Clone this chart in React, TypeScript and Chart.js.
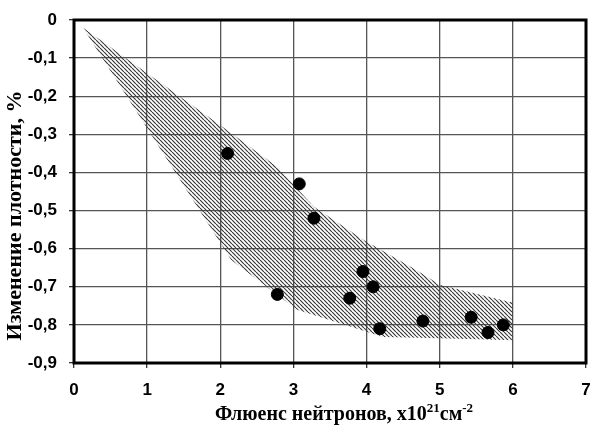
import React, { useEffect, useRef } from 'react';
import { Chart, registerables } from 'chart.js';

Chart.register(...registerables);

const xMin = 0;
const xMax = 7;
const yMin = -0.9;
const yMax = 0;

const pointX = [2.1, 2.78, 3.08, 3.28, 3.77, 3.95, 4.09, 4.18, 4.77, 5.43, 5.66, 5.87];
const pointY = [-0.35, -0.72, -0.43, -0.52, -0.73, -0.66, -0.7, -0.81, -0.79, -0.78, -0.82, -0.8];

const bandX = [0.12, 2.1, 2.78, 3.28, 3.96, 4.68, 5.0, 5.96, 6.0, 6.0, 5.0, 4.23, 3.05, 2.15, 0.12];
const bandY = [-0.02, -0.29, -0.386, -0.49, -0.577, -0.656, -0.695, -0.74, -0.74, -0.84, -0.835, -0.832, -0.76, -0.63, -0.02];

const yTitle = 'Изменение плотности, %';
const xTitleMain = 'Флюенс нейтронов, x10';
const xTitleSup1 = '21';
const xTitleMid = 'см';
const xTitleSup2 = '-2';

const fmtY = (v: number) => (Math.abs(v) < 1e-9 ? '0' : v.toFixed(1).replace('.', ','));

export default function App() {
  const ref = useRef<HTMLCanvasElement | null>(null);

  useEffect(() => {
    const canvas = ref.current;
    if (!canvas) return;
    const ctx = canvas.getContext('2d')!;

    const pc = document.createElement('canvas');
    pc.width = 4;
    pc.height = 4;
    const g = pc.getContext('2d')!;
    g.strokeStyle = '#3a3a3a';
    g.lineWidth = 1.2;
    g.beginPath();
    for (const o of [-4, 0, 4]) {
      g.moveTo(o, 0);
      g.lineTo(o + 4, 4);
    }
    g.stroke();
    const pattern = ctx.createPattern(pc, 'repeat');

    const frame = {
      id: 'frameAndTitles',
      afterDraw(chart: any) {
        const c = chart.ctx;
        const { left, top, right, bottom } = chart.chartArea;
        c.save();
        c.strokeStyle = '#000';
        c.lineWidth = 3;
        c.strokeRect(left, top, right - left, bottom - top);

        c.fillStyle = '#000';
        c.textBaseline = 'middle';
        const big = 'bold 20px "Liberation Serif", serif';
        const small = 'bold 13px "Liberation Serif", serif';
        c.font = big;
        const w1 = c.measureText(xTitleMain).width;
        const w3 = c.measureText(xTitleMid).width;
        c.font = small;
        const w2 = c.measureText(xTitleSup1).width;
        const w4 = c.measureText(xTitleSup2).width;
        const total = w1 + w2 + w3 + w4;
        const cx = (left + right) / 2 + 14;
        const cy = bottom + 52;
        let x = cx - total / 2;
        c.textAlign = 'left';
        c.font = big;
        c.fillText(xTitleMain, x, cy);
        x += w1;
        c.font = small;
        c.fillText(xTitleSup1, x, cy - 6);
        x += w2;
        c.font = big;
        c.fillText(xTitleMid, x, cy);
        x += w3;
        c.font = small;
        c.fillText(xTitleSup2, x, cy - 6);

        c.translate(15, (top + bottom) / 2 + 24);
        c.rotate(-Math.PI / 2);
        c.textAlign = 'center';
        c.font = 'bold 22px "Liberation Serif", serif';
        c.fillText(yTitle, 0, 0);
        c.restore();
      },
    };

    const tickFont = { family: '"Liberation Sans", Arial, sans-serif', size: 17, weight: 'bold' as const };

    const chart = new Chart(ctx, {
      type: 'scatter',
      data: {
        datasets: [
          {
            label: 'points',
            data: pointX.map((x, i) => ({ x, y: pointY[i] })),
            pointRadius: 6,
            pointBackgroundColor: '#000',
            pointBorderColor: '#000',
            showLine: false,
          },
          {
            label: 'band',
            data: bandX.map((x, i) => ({ x, y: bandY[i] })),
            showLine: true,
            pointRadius: 0,
            borderWidth: 0,
            borderColor: 'rgba(0,0,0,0)',
            backgroundColor: pattern as any,
            fill: 'shape' as any,
            tension: 0,
          },
        ],
      },
      options: {
        animation: false,
        responsive: false,
        events: [],
        layout: { padding: { top: 20, right: 5, left: 0, bottom: 0 } },
        plugins: {
          legend: { display: false },
          tooltip: { enabled: false },
        },
        scales: {
          x: {
            type: 'linear',
            min: xMin,
            max: xMax,
            ticks: {
              stepSize: 1,
              font: tickFont,
              color: '#000',
              padding: 12,
              maxRotation: 0,
            },
            grid: { color: '#555', lineWidth: 1.3, tickLength: 5, tickColor: '#333' },
            border: { display: false },
            afterFit: (s: any) => {
              s.height = 63;
              s.paddingLeft = 0;
              s.paddingRight = 0;
            },
          },
          y: {
            type: 'linear',
            min: yMin,
            max: yMax,
            ticks: {
              stepSize: 0.1,
              font: tickFont,
              color: '#000',
              padding: 12,
              callback: (v: any) => fmtY(Number(v)),
            },
            grid: { color: '#555', lineWidth: 1.3, tickLength: 5, tickColor: '#333' },
            border: { display: false },
            afterFit: (s: any) => {
              s.width = 74;
              s.paddingTop = 0;
              s.paddingBottom = 0;
            },
          },
        },
      },
      plugins: [frame],
    });

    return () => chart.destroy();
  }, []);

  return (
    <div style={{ position: 'absolute', left: 0, top: 0, width: 593, height: 426, background: '#fff' }}>
      <canvas ref={ref} width={593} height={426} />
    </div>
  );
}
